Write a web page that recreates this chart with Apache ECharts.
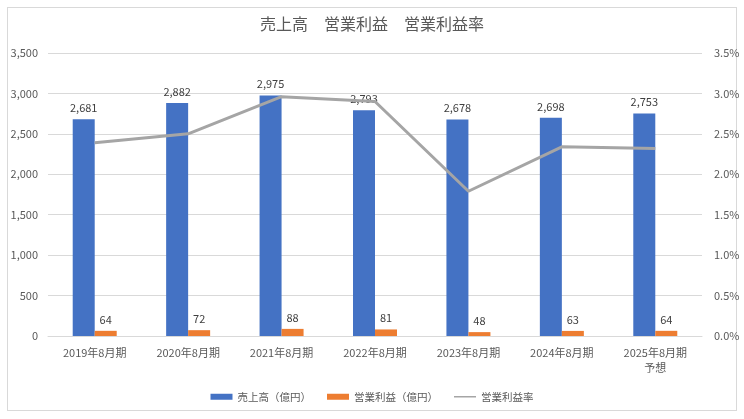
<!DOCTYPE html>
<html>
<head>
<meta charset="utf-8">
<script src="https://cdn.jsdelivr.net/npm/echarts@6/dist/echarts.min.js"></script>
<style>
html,body{margin:0;padding:0;background:#fff;}
#frame{position:absolute;left:7px;top:7px;width:730px;height:404px;border:1px solid #d9d9d9;box-sizing:border-box;}
#c{position:absolute;left:0;top:0;width:744px;height:419px;}
</style>
</head>
<body>
<div id="frame"></div>
<div id="c"></div>
<script>
const categories = ['2019年8月期','2020年8月期','2021年8月期','2022年8月期','2023年8月期','2024年8月期','2025年8月期\n予想'];
const sales = [2681, 2882, 2975, 2793, 2678, 2698, 2753];
const opProfit = [64, 72, 88, 81, 48, 63, 64];
const opMargin = [2.39, 2.50, 2.96, 2.90, 1.79, 2.34, 2.32];
const leftTicks = {min: 0, max: 3500, interval: 500};
const rightTicks = {min: 0, max: 3.5, interval: 0.5};

const font = '"Noto Sans CJK JP", "Noto Sans", sans-serif';
const chart = echarts.init(document.getElementById('c'), null, {renderer: 'canvas'});
chart.setOption({
  backgroundColor: 'transparent',
  animation: false,
  textStyle: {fontFamily: font},
  title: {
    text: '売上高　営業利益　営業利益率',
    left: 'center', top: 11,
    textStyle: {fontSize: 16, fontWeight: 'normal', color: '#595959', fontFamily: font}
  },
  legend: {
    bottom: 12, left: 'center',
    itemGap: 16, itemWidth: 22, itemHeight: 6,
    textStyle: {fontSize: 10.5, color: '#595959', fontFamily: font},
    data: [
      {name: '売上高（億円）', icon: 'rect'},
      {name: '営業利益（億円）', icon: 'rect'},
      {name: '営業利益率', icon: 'path://M0,0h22v0.01h-22zM0,2.2h22v1.6h-22zM0,5.99h22v0.01h-22z'}
    ]
  },
  grid: {left: 48, right: 42, top: 53, bottom: 83, containLabel: false},
  xAxis: {
    type: 'category', data: categories,
    axisLine: {lineStyle: {color: '#d9d9d9'}},
    axisTick: {show: false},
    axisLabel: {color: '#595959', fontSize: 11, margin: 9, lineHeight: 15, fontFamily: font}
  },
  yAxis: [
    {
      type: 'value', min: leftTicks.min, max: leftTicks.max, interval: leftTicks.interval,
      axisLine: {show: false}, axisTick: {show: false},
      splitLine: {lineStyle: {color: '#d9d9d9'}},
      axisLabel: {color: '#595959', fontSize: 11, margin: 10, fontFamily: font,
        formatter: v => v.toLocaleString('en-US')}
    },
    {
      type: 'value', min: rightTicks.min, max: rightTicks.max, interval: rightTicks.interval,
      axisLine: {show: false}, axisTick: {show: false},
      splitLine: {show: false},
      axisLabel: {color: '#595959', fontSize: 11, margin: 12, fontFamily: font,
        formatter: v => v.toFixed(1) + '%'}
    }
  ],
  series: [
    {
      name: '売上高（億円）', type: 'bar', data: sales,
      barWidth: 22, barGap: '0%',
      itemStyle: {color: '#4472C4'},
      label: {show: true, position: 'top', distance: 6, color: '#404040', fontSize: 11, fontFamily: font,
        formatter: p => p.value.toLocaleString('en-US')}
    },
    {
      name: '営業利益（億円）', type: 'bar', data: opProfit,
      barWidth: 22, barGap: '0%',
      itemStyle: {color: '#ED7D31'},
      label: {show: true, position: 'top', distance: 6, color: '#404040', fontSize: 11, fontFamily: font}
    },
    {
      name: '営業利益率', type: 'line', yAxisIndex: 1, data: opMargin,
      symbol: 'none',
      lineStyle: {color: '#A5A5A5', width: 3},
      itemStyle: {color: '#A5A5A5'}
    }
  ]
});
</script>
</body>
</html>
